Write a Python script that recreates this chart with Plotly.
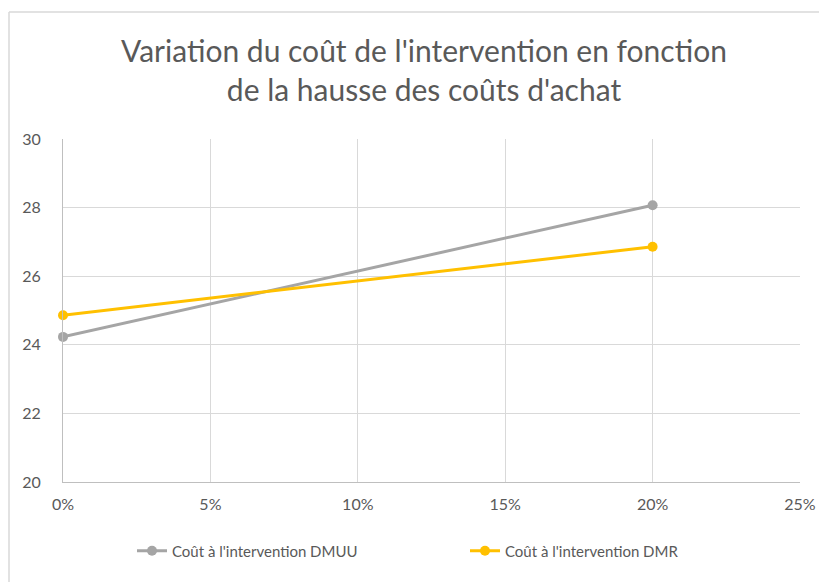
import plotly.graph_objects as go

x_vals = [0, 0.20]
dmuu = [24.23, 28.07]
dmr = [24.86, 26.86]
series_names = ["Coût à l'intervention DMUU", "Coût à l'intervention DMR"]
title_text = "Variation du coût de l'intervention en fonction<br>de la hausse des coûts d'achat"

OFF = 8  # page body margin
W, H = 827 - OFF, 582 - OFF
L, R, T, B = 63 - OFF, 27, 139 - OFF, 100

fig = go.Figure()
fig.add_trace(go.Scatter(x=x_vals, y=dmuu, mode="lines+markers", name=series_names[0],
                         line=dict(color="#a5a5a5", width=3), marker=dict(size=10, color="#a5a5a5"),
                         cliponaxis=False, legend="legend"))
fig.add_trace(go.Scatter(x=x_vals, y=dmr, mode="lines+markers", name=series_names[1],
                         line=dict(color="#ffc000", width=3), marker=dict(size=10, color="#ffc000"),
                         cliponaxis=False, legend="legend2"))

pw = W - L - R
ph = H - T - B
x0 = (1 - L) / pw
y1 = (H - (12 - OFF) - B) / ph
fig.add_shape(type="line", xref="paper", yref="paper", x0=x0, x1=x0, y0=-B / ph - 0.1, y1=y1,
              line=dict(color="#d9d9d9", width=1.5), layer="below")
fig.add_shape(type="line", xref="paper", yref="paper", x0=x0, x1=(W - L + 10) / pw, y0=y1, y1=y1,
              line=dict(color="#d9d9d9", width=1.5), layer="below")

FONT = "Lato, Open Sans, sans-serif"
leg_y = -(551 - OFF - (H - B)) / ph
leg_common = dict(orientation="h", xanchor="left", y=leg_y, yanchor="middle",
                  font=dict(size=15, color="#595959"), bgcolor="rgba(0,0,0,0)")
fig.update_layout(
    width=W, height=H,
    margin=dict(l=L, r=R, t=T, b=B),
    paper_bgcolor="white", plot_bgcolor="white",
    font=dict(family=FONT, color="#595959", size=16),
    title=dict(text=title_text, x=(424 - OFF) / W, xref="container", xanchor="center",
               y=1 - (62 - OFF) / H, yanchor="middle",
               font=dict(size=30, color="#595959", family=FONT)),
    xaxis=dict(range=[0, 0.25], dtick=0.05, tickformat=".0%", showgrid=True, gridcolor="#d9d9d9",
               gridwidth=1, zeroline=False, showline=True, linecolor="#bfbfbf", linewidth=1,
               ticks="", ticklabelstandoff=8, tickfont=dict(size=16, color="#595959"), fixedrange=True),
    yaxis=dict(range=[20, 30], dtick=2, showgrid=True, gridcolor="#d9d9d9", gridwidth=1,
               zeroline=False, showline=True, linecolor="#bfbfbf", linewidth=1, ticks="",
               ticklabelstandoff=18, tickfont=dict(size=16, color="#595959"), fixedrange=True),
    legend=dict(x=(132 - 63) / pw, **leg_common),
    legend2=dict(x=(465 - 63) / pw, **leg_common),
    showlegend=True,
)

fig.write_html("out.html")
